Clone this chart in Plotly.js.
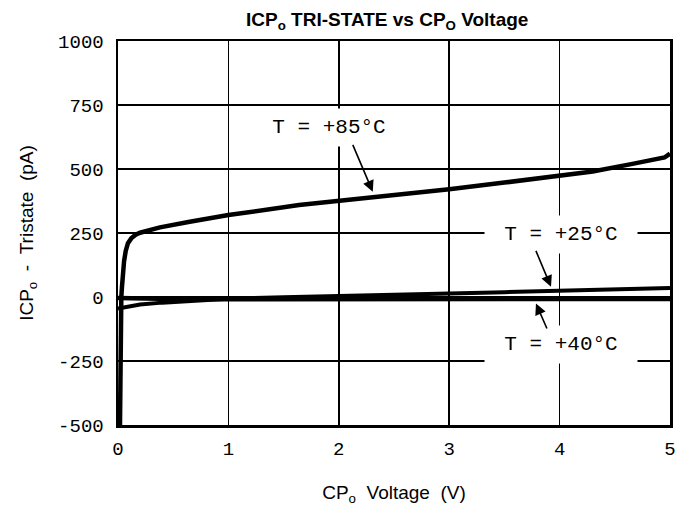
<!DOCTYPE html>
<html>
<head>
<meta charset="utf-8">
<script src="https://cdn.plot.ly/plotly-3.0.1.min.js"></script>
<style>html,body{margin:0;padding:0;background:#fff;}#chart{width:689px;height:512px;}</style>
</head>
<body>
<div id="chart"></div>
<script>
// CP_O voltage (V) and leakage current (pA) per temperature
const v85 = [0.018, 0.021, 0.024, 0.03, 0.036, 0.045, 0.055, 0.07, 0.09, 0.12, 0.16, 0.2, 0.38, 0.65, 1.0, 1.64, 2.0, 2.5, 3.0, 3.5, 4.0, 4.3, 4.66, 4.85, 4.95, 5.0];
const i85 = [-500, -250, -60, 0, 40, 95, 140, 180, 210, 229, 243, 251, 272, 294, 320, 359, 375, 398, 421, 447, 472, 490, 520, 535, 545, 560];
const v25 = [0, 0.05, 0.1, 0.2, 0.4, 0.6, 1.0, 1.5, 2.0, 2.5, 3.0, 3.5, 4.0, 4.5, 5.0];
const i25 = [-45, -40, -35, -29, -22, -16, -7, -1, 5, 10, 14, 19, 24, 29, 35];
const v40 = [0, 0.2, 0.5, 1.0, 2.0, 3.0, 4.0, 5.0];
const i40 = [-4, -6, -8, -9, -10, -8, -8, -8];

const yTickVals = [-500, -250, 0, 250, 500, 750, 1000];
const yTickText = ['-500', '-250', '0', '250', '500', '750', '1000'];
const xTickVals = [0, 1, 2, 3, 4, 5];
const xTickText = ['0', '1', '2', '3', '4', '5'];

const labels = ['T = +85°C', 'T = +25°C', 'T = +40°C'];
const labelX = [1.909, 4.011, 4.011];
const labelY = [664, 246, -184];
const arrowTipX = [2.308, 3.922, 3.786];
const arrowTipY = [411, 40, -25];
const arrowTailX = [2.121, 3.78, 3.891];
const arrowTailY = [600, 186, -129];

const mono = 'Liberation Mono, DejaVu Sans Mono, monospace';
const sans = 'Liberation Sans, Arial, sans-serif';

const traces = [
  {x: v85, y: i85, mode: 'lines', line: {color: '#000', width: 4.5}, hoverinfo: 'skip'},
  {x: v25, y: i25, mode: 'lines', line: {color: '#000', width: 4}, hoverinfo: 'skip'},
  {x: v40, y: i40, mode: 'lines', line: {color: '#000', width: 4.5}, hoverinfo: 'skip'}
];

const annotations = [];
for (let k = 0; k < labels.length; k++) {
  annotations.push({
    x: labelX[k], y: labelY[k], xref: 'x', yref: 'y',
    text: labels[k], showarrow: false,
    font: {family: mono, size: 21, color: '#000'},
    bgcolor: '#fff', width: 150, height: 35,
    xanchor: 'center', yanchor: 'middle'
  });
  annotations.push({
    x: arrowTipX[k], y: arrowTipY[k], xref: 'x', yref: 'y',
    ax: arrowTailX[k], ay: arrowTailY[k], axref: 'x', ayref: 'y',
    text: '', showarrow: true, arrowhead: 2, arrowsize: 1.4, arrowwidth: 1.6,
    arrowcolor: '#000', standoff: 0, startstandoff: 0
  });
}

const layout = {
  width: 689, height: 512,
  margin: {l: 118, r: 19, t: 41, b: 87, pad: 0},
  paper_bgcolor: '#fff', plot_bgcolor: '#fff',
  showlegend: false,
  title: {
    text: '<b>ICP<sub>o</sub> TRI-STATE vs CP<sub>O</sub> Voltage</b>',
    font: {family: sans, size: 19, color: '#000'},
    x: 0.562, xanchor: 'center', y: 0.963, yanchor: 'middle', yref: 'container'
  },
  xaxis: {
    range: [0, 5], tickvals: xTickVals, ticktext: xTickText,
    showgrid: true, gridcolor: '#000', gridwidth: 1.5, zeroline: false,
    showline: true, mirror: true, linecolor: '#000', linewidth: 2.5,
    ticks: '', ticklabelstandoff: 5,
    tickfont: {family: mono, size: 19, color: '#000'},
    title: {text: 'CP<sub>o</sub>&nbsp;&nbsp;Voltage&nbsp;&nbsp;(V)', font: {family: sans, size: 19, color: '#000'}, standoff: 26}
  },
  yaxis: {
    range: [-500, 1000], tickvals: yTickVals, ticktext: yTickText,
    showgrid: true, gridcolor: '#000', gridwidth: 1.5, zeroline: false,
    showline: true, mirror: true, linecolor: '#000', linewidth: 2.5,
    ticks: '', ticklabelstandoff: 8,
    tickfont: {family: mono, size: 19, color: '#000'},
    title: {text: 'ICP<sub>o</sub>&nbsp;&nbsp;-&nbsp;&nbsp;Tristate&nbsp;&nbsp;(pA)', font: {family: sans, size: 19, color: '#000'}, standoff: 20}
  },
  annotations: annotations
};

Plotly.newPlot('chart', traces, layout, {staticPlot: true, displayModeBar: false});
</script>
</body>
</html>
